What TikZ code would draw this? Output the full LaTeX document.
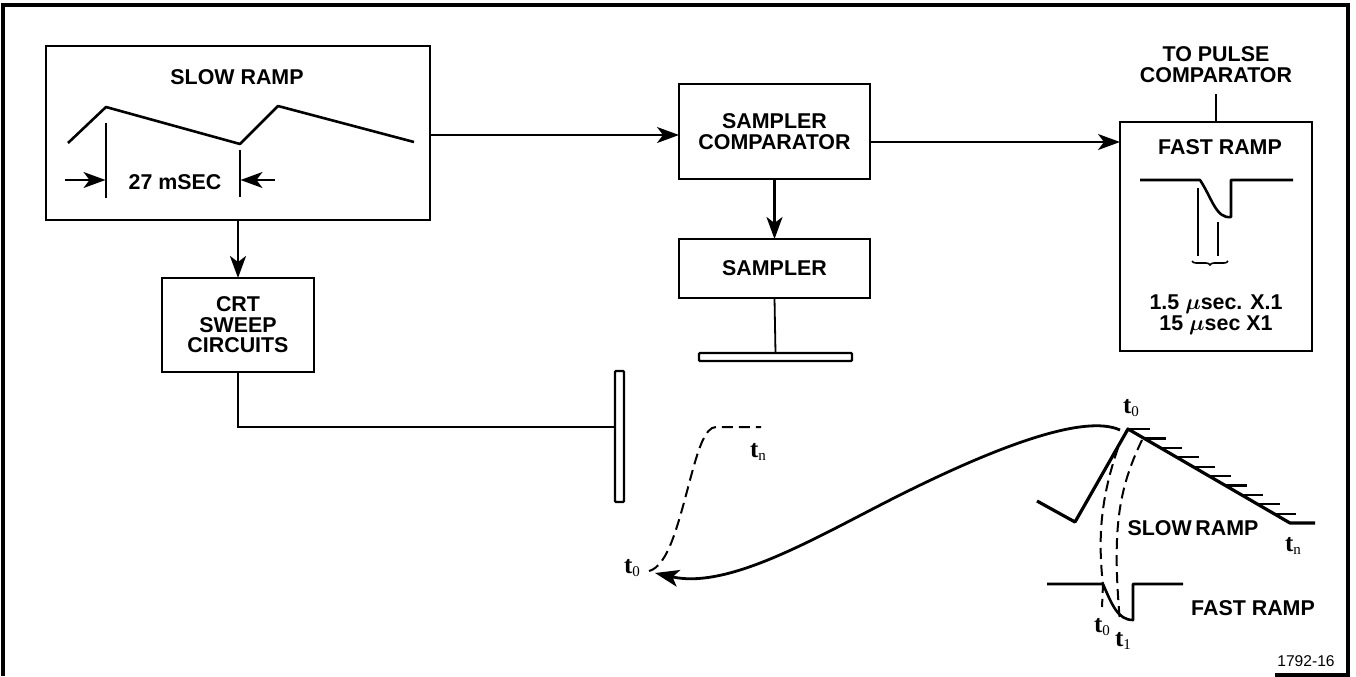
\documentclass[tikz,border=0pt]{standalone}
\usepackage{fontspec}
\usepackage{bm}
\setmainfont{Liberation Sans}
\newfontfamily\serifletter{Liberation Serif}
\usetikzlibrary{arrows.meta}
\usetikzlibrary{decorations.pathreplacing}
\newcommand{\tsub}[1]{{\serifletter\fontsize{12.5}{12.5}\selectfont\bfseries t}\raisebox{-1.5pt}{\serifletter\fontsize{7.5}{7.5}\selectfont #1}}
\tikzset{
	block/.style={draw, line width=1.25pt, inner sep=0pt, outer sep=0pt, align=center, font=\labelfont},
	plate/.style={draw, line width=1.1pt, inner sep=0pt, outer sep=0pt, rounded corners=0.5pt},
	caption/.style={inner sep=0pt, align=center, font=\labelfont},
	tlabel/.style={inner sep=0pt},
	wave/.style={line width=1.3pt, line join=round},
	tick/.style={line width=1.1pt},
	flow/.style={line width=0.9pt, -{Stealth[length=11pt, width=8pt, inset=3pt]}},
	wire/.style={line width=0.9pt},
	guide/.style={line width=1pt, dash pattern=on 5.5pt off 3pt},
}
\newcommand{\labelfont}{\fontsize{10.7}{10.3}\selectfont\bfseries}
\begin{document}
\begin{tikzpicture}[x=0.5pt, y=-0.5pt]
	\useasboundingbox (0,0) rectangle (1356,676);
	% frame
	\draw[line width=1.6pt] (3,676) -- (3,5) -- (1348,5) -- (1348,675) -- (1275,675);
	
	\node (slowramp) [block, minimum width=192pt, minimum height=87pt] at (238,133) {};
	\node (comparator) [block, minimum width=95.5pt, minimum height=47.5pt] at (774.5,131.5) {SAMPLER\\COMPARATOR};
	\node (sampler) [block, minimum width=95.5pt, minimum height=29.5pt] at (774.5,268.5) {SAMPLER};
	\node (crt) [block, minimum width=76pt, minimum height=47pt] at (238,325) {CRT\\SWEEP\\CIRCUITS};
	\node (fastramp) [block, minimum width=96pt, minimum height=114.5pt] at (1216,236.5) {};
	\node (hplate) [plate, minimum width=76.5pt, minimum height=4pt] at (775.5,357) {};
	\node (vplate) [plate, minimum width=4.5pt, minimum height=65.5pt] at (619.5,436.5) {};
	\node (pulse) [caption] at (1216,64.5) {TO PULSE\\COMPARATOR};
	
	\coordinate (feedin) at (550,135);
	\coordinate (fastin) at (1000,142);
	\coordinate (pulseout) at (1216,94);
	\coordinate (crtbend) at (238,427);
	
	\draw[flow] (slowramp.east |- feedin) -- (comparator.west |- feedin);
	\draw[flow] (comparator.east |- fastin) -- (fastramp.west |- fastin);
	\draw[flow, line width=1.3pt] (comparator.south) -- (sampler.north);
	\draw[flow, line width=1.3pt] (slowramp.south) -- (crt.north);
	\draw[wire] (sampler.south) -- (hplate.north);
	\draw[wire] (fastramp.north) -- (pulseout);
	\draw[wire] (crt.south) -- (crtbend) -- (vplate.west |- crtbend);
	
	% slow ramp box
	\node (slowtitle) [caption] at (237,77) {SLOW RAMP};
	\node (period) [caption] at (175,182) {27 mSEC};
	\draw[wave] (68,143) -- (106,107) -- (240,144) -- (278,106) -- (414,142);
	\draw[tick] (106,123) -- (106,198);
	\draw[tick] (240,150) -- (240,197);
	\draw[flow] (65,180) -- (105.5,180);
	\draw[flow] (275,180) -- (240.5,180);
	
	% fast ramp box
	\node (fasttitle) [caption] at (1220,147) {FAST RAMP};
	\node (fasttime) [caption] at (1216,314.5) {1.5 $\bm{\mu}$sec. X.1\\15 $\bm{\mu}$sec X1};
	\draw[wave] (1140,180) -- (1200,180) .. controls (1212,198) and (1216,219) .. (1231,217) -- (1231,180) -- (1293,180);
	\draw[wave] (1198,188) -- (1198,256);
	\draw[wave] (1218,222) -- (1218,256);
	\draw[decorate, decoration={brace, mirror, amplitude=2pt}, line width=0.8pt] (1192,261) -- (1228,261);
	
	% display trace
	\node (tnleft) [tlabel] at (758,452) {\tsub{n}};
	\node (t0left) [tlabel] at (632,568) {\tsub{0}};
	\node (t0top) [tlabel] at (1131,408) {\tsub{0}};
	\node (tnright) [tlabel] at (1293,546) {\tsub{n}};
	\node (t0low) [tlabel] at (1102,627) {\tsub{0}};
	\node (t1low) [tlabel] at (1123,641) {\tsub{1}};
	\node (slowlabel) [caption] at (1193,528) {SLOW\,RAMP};
	\node (fastlabel) [caption] at (1253,608) {FAST RAMP};
	\node (figno) [inner sep=0pt, font=\fontsize{7.8}{8}\selectfont] at (1306,661) {1792-16};
	
	\draw[guide] (649,571) .. controls (668,566) and (678,525) .. (690,480) .. controls (698,450) and (705,427) .. (716,427) -- (761,427);
	\draw[line width=1.4pt, -{Stealth[length=12pt, width=8.5pt, inset=3pt]}] (1120,430) .. controls (1085,414) and (1000,445) .. (900,495) .. controls (820,535) and (730,590) .. (655,573);
	\draw[line width=1.6pt, line join=round] (1037,501) -- (1075,522) -- (1128,429) -- (1290,523) -- (1315,523);
	\foreach \i in {0,...,9}
		\draw[tick] (1128+\i*16.2,429+\i*9.4) -- ++(22,0);
	\draw[guide] (1118,448) .. controls (1100,500) and (1098,540) .. (1103,585) -- (1102,607);
	\draw[guide] (1142,440) .. controls (1118,490) and (1112,530) .. (1120,622);
	\draw[wave] (1047,584) -- (1103,584) .. controls (1112,605) and (1118,620) .. (1133,620) -- (1133,584) -- (1183,584);
\end{tikzpicture}
\end{document}
